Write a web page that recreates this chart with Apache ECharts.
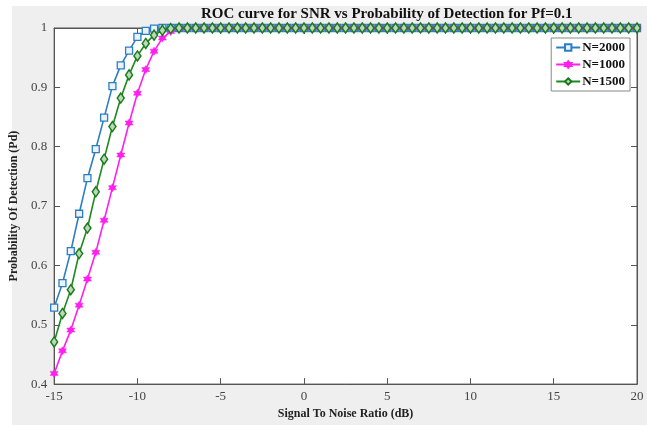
<!DOCTYPE html>
<html>
<head>
<meta charset="utf-8">
<script src="https://cdn.jsdelivr.net/npm/echarts@6/dist/echarts.min.js"></script>
<style>
html,body{margin:0;padding:0;background:#fff;}
#chart{width:647px;height:425px;}
</style>
</head>
<body>
<div id="chart"></div>
<script>
// SNR values (dB), step 0.5
var snr = [-15,-14.5,-14,-13.5,-13,-12.5,-12,-11.5,-11,-10.5,-10,-9.5,-9,-8.5,-8,-7.5,-7,-6.5,-6,-5.5,-5,-4.5,-4,-3.5,-3,-2.5,-2,-1.5,-1,-0.5,0,0.5,1,1.5,2,2.5,3,3.5,4,4.5,5,5.5,6,6.5,7,7.5,8,8.5,9,9.5,10,10.5,11,11.5,12,12.5,13,13.5,14,14.5,15,15.5,16,16.5,17,17.5,18,18.5,19,19.5,20];

var pdN2000 = [0.529,0.570,0.624,0.687,0.747,0.796,0.849,0.902,0.937,0.962,0.985,0.995,0.999,1,1,1,1,1,1,1,1,1,1,1,1,1,1,1,1,1,1,1,1,1,1,1,1,1,1,1,1,1,1,1,1,1,1,1,1,1,1,1,1,1,1,1,1,1,1,1,1,1,1,1,1,1,1,1,1,1,1];
var pdN1000 = [0.418,0.456,0.491,0.533,0.577,0.622,0.676,0.731,0.786,0.840,0.890,0.930,0.961,0.983,0.994,0.999,1,1,1,1,1,1,1,1,1,1,1,1,1,1,1,1,1,1,1,1,1,1,1,1,1,1,1,1,1,1,1,1,1,1,1,1,1,1,1,1,1,1,1,1,1,1,1,1,1,1,1,1,1,1,1];
var pdN1500 = [0.471,0.519,0.559,0.620,0.663,0.724,0.779,0.834,0.882,0.921,0.953,0.974,0.988,0.996,0.999,1,1,1,1,1,1,1,1,1,1,1,1,1,1,1,1,1,1,1,1,1,1,1,1,1,1,1,1,1,1,1,1,1,1,1,1,1,1,1,1,1,1,1,1,1,1,1,1,1,1,1,1,1,1,1,1];

var seriesNames = ['N=2000','N=1000','N=1500'];
var xTicks = [-15,-10,-5,0,5,10,15,20];
var yTicks = [0.4,0.5,0.6,0.7,0.8,0.9,1];

function pairs(ys){ return snr.map(function(x,i){ return [x, ys[i]]; }); }

var serif = '"Liberation Serif","Times New Roman",serif';
var hexagram = 'path://M0,-10L2.9,-5L8.66,-5L5.8,0L8.66,5L2.9,5L0,10L-2.9,5L-8.66,5L-5.8,0L-8.66,-5L-2.9,-5Z';
var axisCol = '#555';

var chart = echarts.init(document.getElementById('chart'));
chart.setOption({
  backgroundColor: '#efefef',
  animation: false,
  graphic: [
    {type:'rect', shape:{x:0,y:0,width:12,height:425}, style:{fill:'#fff'}, z:-10},
    {type:'rect', shape:{x:0,y:0,width:647,height:6}, style:{fill:'#fff'}, z:-10}
  ],
  title: {
    text: 'ROC curve for SNR vs Probability of Detection for Pf=0.1',
    left: 196, top: 2,
    textStyle: {fontFamily: serif, fontWeight: 'bold', fontSize: 15, color: '#111'}
  },
  legend: {
    orient: 'vertical', right: 17, top: 38,
    backgroundColor: '#fff', borderColor: '#888', borderWidth: 1,
    padding: [3,5,3,4], itemGap: 4, itemWidth: 24, itemHeight: 8,
    textStyle: {fontFamily: serif, fontWeight: 'bold', fontSize: 13, color: '#111', padding:[0,0,0,-3]},
    data: seriesNames
  },
  grid: {left: 46, right: 10, top: 28, bottom: 35, show: true, backgroundColor: '#fff', borderColor: axisCol, borderWidth: 1},
  xAxis: [{
    type: 'value', min: -15, max: 20, interval: 5,
    name: 'Signal To Noise Ratio (dB)', nameLocation: 'middle', nameGap: 21,
    nameTextStyle: {fontFamily: serif, fontWeight: 'bold', fontSize: 12, color: '#222'},
    axisLine: {show: true, onZero: false, lineStyle: {color: axisCol}},
    axisTick: {show: true, inside: true, length: 6, lineStyle: {color: axisCol}},
    axisLabel: {fontFamily: serif, fontSize: 13, color: '#444', margin: 6,
      formatter: function(v){ return xTicks.indexOf(v) >= 0 ? String(v) : ''; }},
    splitLine: {show: false}
  },{
    type: 'value', min: -15, max: 20, interval: 5, position: 'top',
    axisLine: {show: true, onZero: false, lineStyle: {color: axisCol}},
    axisTick: {show: true, inside: true, length: 6, lineStyle: {color: axisCol}},
    axisLabel: {show: false}, splitLine: {show: false}
  }],
  yAxis: [{
    type: 'value', min: 0.4, max: 1, interval: 0.1,
    name: 'Probability Of Detection (Pd)', nameLocation: 'middle', nameGap: 22,
    nameTextStyle: {fontFamily: serif, fontWeight: 'bold', fontSize: 12, color: '#222'},
    axisLine: {show: true, onZero: false, lineStyle: {color: axisCol}},
    axisTick: {show: true, inside: true, length: 6, lineStyle: {color: axisCol}},
    axisLabel: {fontFamily: serif, fontSize: 13, color: '#444', margin: 7,
      formatter: function(v){ var r = Math.round(v*10)/10; return yTicks.indexOf(r) >= 0 ? String(r) : ''; }},
    splitLine: {show: false}
  },{
    type: 'value', min: 0.4, max: 1, interval: 0.1, position: 'right',
    axisLine: {show: true, onZero: false, lineStyle: {color: axisCol}},
    axisTick: {show: true, inside: true, length: 6, lineStyle: {color: axisCol}},
    axisLabel: {show: false}, splitLine: {show: false}
  }],
  series: [
    {
      name: seriesNames[0], type: 'line', data: pairs(pdN2000),
      symbol: 'rect', symbolSize: 7,
      lineStyle: {color: '#2c7ec2', width: 1.6},
      itemStyle: {color: '#eaf2fa', borderColor: '#2c7ec2', borderWidth: 1.3},
      z: 2
    },
    {
      name: seriesNames[1], type: 'line', data: pairs(pdN1000),
      symbol: hexagram, symbolSize: 8,
      lineStyle: {color: '#ff1fef', width: 1.6},
      itemStyle: {color: '#ff1fef', borderColor: '#ff1fef', borderWidth: 0.5},
      z: 3
    },
    {
      name: seriesNames[2], type: 'line', data: pairs(pdN1500),
      symbol: 'diamond', symbolSize: [7, 10],
      lineStyle: {color: '#1c8a1c', width: 1.6},
      itemStyle: {color: '#b9d9b9', borderColor: '#1c7a1c', borderWidth: 1.5},
      z: 4
    }
  ]
});
</script>
</body>
</html>
